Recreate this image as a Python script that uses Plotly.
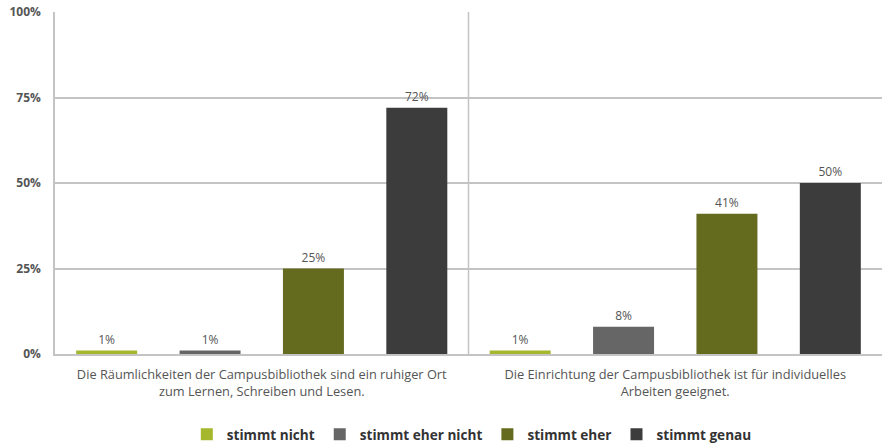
import plotly.graph_objects as go

categories = [
    "Die Räumlichkeiten der Campusbibliothek sind ein ruhiger Ort<br>zum Lernen, Schreiben und Lesen.",
    "Die Einrichtung der Campusbibliothek ist für individuelles<br>Arbeiten geeignet.",
]
series_names = ["stimmt nicht", "stimmt eher nicht", "stimmt eher", "stimmt genau"]
series_values = [
    [1, 1],
    [1, 8],
    [25, 41],
    [72, 50],
]
colors = ["#a4b72d", "#666666", "#646b1f", "#3c3c3c"]
y_ticks = [0, 25, 50, 75, 100]
y_tick_labels = ["0%", "25%", "50%", "75%", "100%"]

font_family = "Open Sans, Lato, sans-serif"

fig = go.Figure()
for name, vals, col in zip(series_names, series_values, colors):
    fig.add_trace(go.Bar(
        name=name,
        x=categories,
        y=vals,
        marker=dict(color=col, line=dict(width=0)),
        text=[f"{v}%" for v in vals],
        textposition="outside",
        textfont=dict(size=12, color="#555555", family=font_family),
        cliponaxis=False,
    ))

fig.add_shape(type="line", xref="x", yref="y", x0=0.5, x1=0.5, y0=0, y1=100,
              line=dict(color="#c4c4c4", width=1.5), layer="below")

fig.update_layout(
    width=882, height=444,
    margin=dict(l=55, r=0, t=12, b=90, autoexpand=False),
    paper_bgcolor="white", plot_bgcolor="white",
    barmode="group", bargap=0.0, bargroupgap=0.41,
    font=dict(family=font_family, color="#555555"),
    showlegend=True,
    legend=dict(orientation="h", x=0.504, xanchor="center", y=-0.19, yanchor="top",
                font=dict(size=13.6, color="#333333", family=font_family, weight="bold"),
                itemwidth=30, traceorder="normal"),
    xaxis=dict(showgrid=False, showline=True, linecolor="#c4c4c4", linewidth=1.5,
               automargin=False, ticklabelstandoff=8,
               ticks="", tickfont=dict(size=12.8, color="#555555"), range=[-0.5, 1.5]),
    yaxis=dict(range=[0, 100], tickvals=y_ticks, ticktext=y_tick_labels,
               automargin=False,
               showgrid=True, gridcolor="#c4c4c4", gridwidth=1.5,
               showline=True, linecolor="#c4c4c4", linewidth=1.5,
               zeroline=False, ticks="", ticklabelstandoff=10,
               tickfont=dict(size=12, color="#555555", weight="bold")),
)

fig.write_html("out.html")
